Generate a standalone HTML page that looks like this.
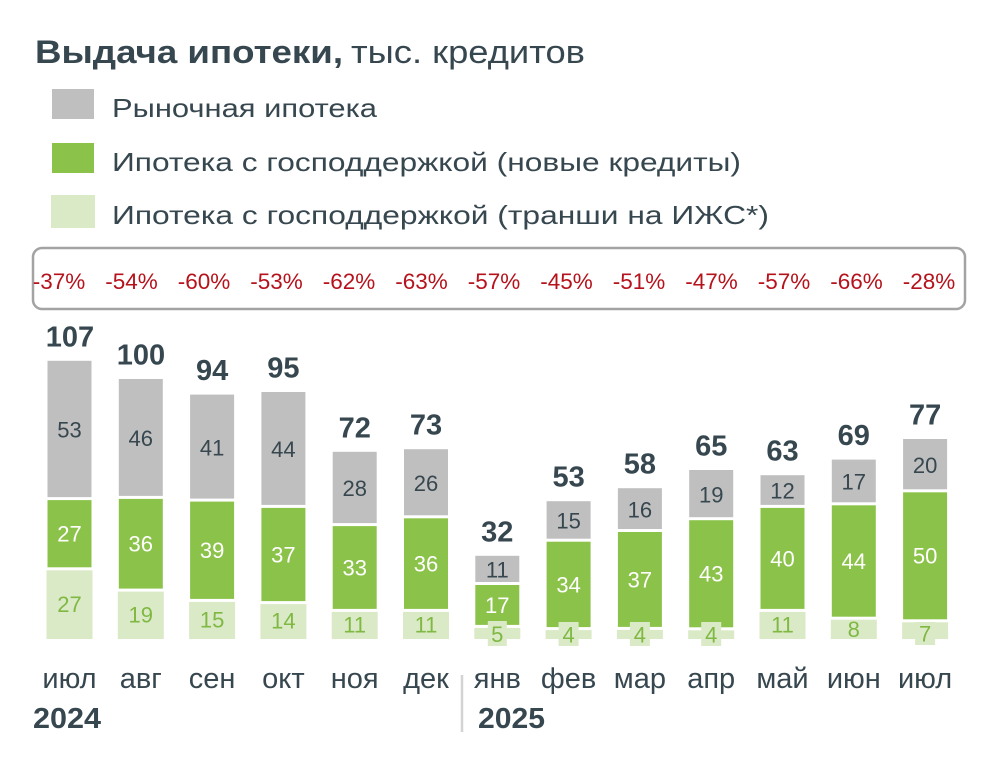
<!DOCTYPE html>
<html><head><meta charset="utf-8"><style>
html,body{margin:0;padding:0;background:#fff;}
svg{display:block;}
text{font-family:"Liberation Sans","DejaVu Sans",sans-serif;}
</style></head><body>
<svg width="1000" height="764" viewBox="0 0 1000 764" xmlns="http://www.w3.org/2000/svg">
<rect width="1000" height="764" fill="#fff"/>
<!-- Title -->
<text x="35" y="63" font-size="32" font-weight="bold" fill="#37474f" textLength="308" lengthAdjust="spacingAndGlyphs">Выдача ипотеки,</text>
<text x="351" y="63" font-size="32" fill="#37474f" textLength="234" lengthAdjust="spacingAndGlyphs">тыс. кредитов</text>
<!-- Legend -->
<rect x="52" y="89" width="42" height="30" fill="#bfbfbf"/>
<rect x="52" y="143" width="42" height="30" fill="#8bc34a"/>
<rect x="51" y="195" width="44" height="33" fill="#dbeac6"/>
<g font-size="26" fill="#37474f">
<text x="112" y="117" textLength="265" lengthAdjust="spacingAndGlyphs">Рыночная ипотека</text>
<text x="112" y="171" textLength="629" lengthAdjust="spacingAndGlyphs">Ипотека с господдержкой (новые кредиты)</text>
<text x="112" y="224" textLength="657" lengthAdjust="spacingAndGlyphs">Ипотека с господдержкой (транши на ИЖС*)</text>
</g>
<!-- Percent box -->
<rect x="33" y="248" width="932" height="61" rx="9" ry="9" fill="none" stroke="#a3a3a3" stroke-width="2.5"/>
<g font-size="22.5" fill="#b5121b" text-anchor="middle">
<text x="59" y="289">-37%</text>
<text x="131.5" y="289">-54%</text>
<text x="204" y="289">-60%</text>
<text x="276.5" y="289">-53%</text>
<text x="349" y="289">-62%</text>
<text x="421.5" y="289">-63%</text>
<text x="494" y="289">-57%</text>
<text x="566.5" y="289">-45%</text>
<text x="639" y="289">-51%</text>
<text x="711.5" y="289">-47%</text>
<text x="784" y="289">-57%</text>
<text x="856.5" y="289">-66%</text>
<text x="929" y="289">-28%</text>
</g>
<!-- Bars: gray -->
<g fill="#bfbfbf">
<rect x="47.5" y="360.8" width="44" height="136.3"/>
<rect x="118.8" y="379" width="44" height="116.9"/>
<rect x="190.1" y="394.6" width="44" height="104"/>
<rect x="261.4" y="392" width="44" height="112.9"/>
<rect x="332.7" y="451.8" width="44" height="71.3"/>
<rect x="404" y="449.2" width="44" height="66.1"/>
<rect x="475.3" y="555.8" width="44" height="26.2"/>
<rect x="546.6" y="501.2" width="44" height="37.5"/>
<rect x="617.9" y="488.2" width="44" height="40.8"/>
<rect x="689.2" y="470" width="44" height="47.2"/>
<rect x="760.5" y="475.2" width="44" height="29.7"/>
<rect x="831.8" y="459.6" width="44" height="42.7"/>
<rect x="903.1" y="439" width="44" height="50.3"/>
</g>
<!-- Bars: green -->
<g fill="#8bc34a">
<rect x="47.5" y="500.1" width="44" height="67.2"/>
<rect x="118.8" y="498.9" width="44" height="89.7"/>
<rect x="190.1" y="501.6" width="44" height="97.3"/>
<rect x="261.4" y="507.9" width="44" height="93.2"/>
<rect x="332.7" y="526.1" width="44" height="82.8"/>
<rect x="404" y="518.3" width="44" height="90.6"/>
<rect x="475.3" y="585" width="44" height="39.9"/>
<rect x="546.6" y="541.7" width="44" height="85.4"/>
<rect x="617.9" y="532" width="44" height="94.9"/>
<rect x="689.2" y="520.2" width="44" height="107.1"/>
<rect x="760.5" y="507.9" width="44" height="101"/>
<rect x="831.8" y="505.3" width="44" height="111.4"/>
<rect x="903.1" y="492.3" width="44" height="127"/>
</g>
<!-- Bars: light green -->
<g fill="#dbeac6">
<rect x="46.5" y="570.3" width="46" height="68.7"/>
<rect x="117.8" y="591.6" width="46" height="47.4"/>
<rect x="189.1" y="601.9" width="46" height="37.1"/>
<rect x="260.4" y="604.1" width="46" height="34.9"/>
<rect x="331.7" y="611.9" width="46" height="27.1"/>
<rect x="403" y="611.9" width="46" height="27.1"/>
<rect x="474.3" y="627.9" width="46" height="11.1"/>
<rect x="545.6" y="630.1" width="46" height="8.9"/>
<rect x="616.9" y="629.9" width="46" height="9.1"/>
<rect x="688.2" y="630.3" width="46" height="8.7"/>
<rect x="759.5" y="611.9" width="46" height="27.1"/>
<rect x="830.8" y="619.7" width="46" height="19.3"/>
<rect x="902.1" y="622.3" width="46" height="16.7"/>
<!-- label boxes for small segments -->
<rect x="487.8" y="621" width="19" height="25"/>
<rect x="558.6" y="622" width="20" height="24"/>
<rect x="629.9" y="622" width="20" height="24"/>
<rect x="701.2" y="622" width="20" height="24"/>
<rect x="915.1" y="622" width="20" height="23"/>
</g>
<!-- Gray segment labels -->
<g font-size="22" fill="#37474f" text-anchor="middle">
<text x="69.5" y="437.6">53</text>
<text x="140.8" y="446">46</text>
<text x="212.1" y="455.3">41</text>
<text x="283.4" y="457.1">44</text>
<text x="354.7" y="496.1">28</text>
<text x="426" y="490.9">26</text>
<text x="497.3" y="577.5">11</text>
<text x="568.6" y="528.6">15</text>
<text x="639.9" y="517.3">16</text>
<text x="711.2" y="502.3">19</text>
<text x="782.5" y="498.7">12</text>
<text x="853.8" y="489.6">17</text>
<text x="925.1" y="472.8">20</text>
</g>
<!-- Green segment labels -->
<g font-size="22" fill="#ffffff" text-anchor="middle">
<text x="69.5" y="541.6">27</text>
<text x="140.8" y="551.7">36</text>
<text x="212.1" y="558.2">39</text>
<text x="283.4" y="562.4">37</text>
<text x="354.7" y="575.4">33</text>
<text x="426" y="571.5">36</text>
<text x="497.3" y="612.9">17</text>
<text x="568.6" y="592.3">34</text>
<text x="639.9" y="587.4">37</text>
<text x="711.2" y="581.7">43</text>
<text x="782.5" y="566.3">40</text>
<text x="853.8" y="568.9">44</text>
<text x="925.1" y="563.7">50</text>
</g>
<!-- Light segment labels -->
<g font-size="22" fill="#7fb843" text-anchor="middle">
<text x="69.5" y="611.8">27</text>
<text x="140.8" y="622.5">19</text>
<text x="212.1" y="627.6">15</text>
<text x="283.4" y="628.7">14</text>
<text x="354.7" y="632.6">11</text>
<text x="426" y="632.6">11</text>
<text x="497.3" y="641.9">5</text>
<text x="568.6" y="642.4">4</text>
<text x="639.9" y="642.4">4</text>
<text x="711.2" y="642.4">4</text>
<text x="782.5" y="632.6">11</text>
<text x="853.8" y="637">8</text>
<text x="925.1" y="641.5">7</text>
</g>
<!-- Totals -->
<g font-size="29" font-weight="bold" fill="#37474f" text-anchor="middle">
<text x="70" y="346.3">107</text>
<text x="141" y="364.5">100</text>
<text x="212.1" y="380.1">94</text>
<text x="283.4" y="377.5">95</text>
<text x="354.7" y="437.3">72</text>
<text x="426" y="434.7">73</text>
<text x="497.3" y="541.3">32</text>
<text x="568.6" y="486.7">53</text>
<text x="639.9" y="473.7">58</text>
<text x="711.2" y="455.5">65</text>
<text x="782.5" y="460.7">63</text>
<text x="853.8" y="445.1">69</text>
<text x="925.1" y="424.5">77</text>
</g>
<!-- Month labels -->
<g font-size="29" fill="#37474f" text-anchor="middle">
<text x="69.5" y="688">июл</text>
<text x="140.8" y="688">авг</text>
<text x="212.1" y="688">сен</text>
<text x="283.4" y="688">окт</text>
<text x="354.7" y="688">ноя</text>
<text x="426" y="688">дек</text>
<text x="497.3" y="688">янв</text>
<text x="568.6" y="688">фев</text>
<text x="639.9" y="688">мар</text>
<text x="711.2" y="688">апр</text>
<text x="782.5" y="688">май</text>
<text x="853.8" y="688">июн</text>
<text x="925.1" y="688">июл</text>
</g>
<line x1="462" y1="675" x2="462" y2="732" stroke="#d3d3d3" stroke-width="2.5"/>
<g font-size="29" font-weight="bold" fill="#37474f">
<text x="33" y="728" textLength="68" lengthAdjust="spacingAndGlyphs">2024</text>
<text x="478" y="728" textLength="67" lengthAdjust="spacingAndGlyphs">2025</text>
</g>
</svg>
</body></html>
